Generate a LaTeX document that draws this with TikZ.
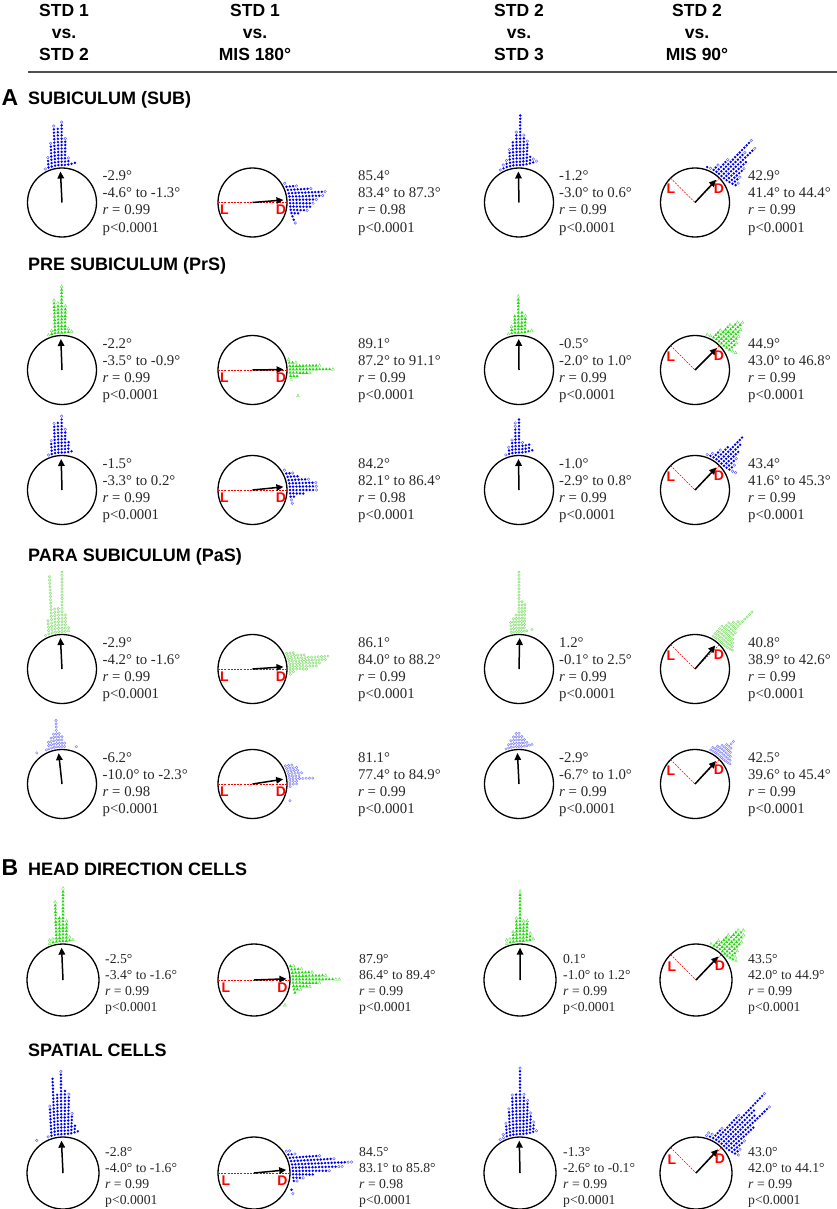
\documentclass[tikz,border=0pt]{standalone}
\usepackage{fontspec}
\setmainfont{Liberation Serif}
\setsansfont{Liberation Sans}
\usetikzlibrary{arrows.meta,calc}

\definecolor{cblue}{RGB}{0,0,245}
\definecolor{cblueo}{RGB}{95,95,255}
\definecolor{cgreen}{RGB}{40,215,20}
\definecolor{cgreeno}{RGB}{100,225,80}
\definecolor{cpg}{RGB}{135,225,115}
\definecolor{cpb}{RGB}{135,135,245}
\definecolor{ctext}{RGB}{40,40,40}
\definecolor{crule}{RGB}{80,80,80}

% dot markers
\newcommand\mkbf[2]{\fill[cblue] (#1,#2) circle (1.35);}
\newcommand\mkbo[2]{\draw[cblueo,line width=.45pt] (#1,#2) circle (1.3);}
\newcommand\mkgf[2]{\fill[cgreen] (#1,#2) ++(0,-1.8) -- ++(1.55,2.8) -- ++(-3.1,0) -- cycle;}
\newcommand\mkgo[2]{\draw[cgreeno,line width=.4pt] (#1,#2) ++(0,-1.6) -- ++(1.4,2.6) -- ++(-2.8,0) -- cycle;}
\newcommand\mkpgf[2]{\draw[cpg,line width=.5pt] (#1,#2) circle (1.2);}
\newcommand\mkpgo[2]{\draw[cpg,line width=.5pt] (#1,#2) circle (1.2);}
\newcommand\mkpbf[2]{\draw[cpb,line width=.5pt] (#1,#2) circle (1.2);}
\newcommand\mkpbo[2]{\draw[cpb,line width=.5pt] (#1,#2) circle (1.2);}

% fan of stacked dots: cx, cy, R, phi, centre index, perp spacing, type, list n/o
\newcommand\fan[8]{%
  \foreach \fn/\fo [count=\ii from 0] in {#8} {%
    \pgfmathsetmacro\ft{(#5-\ii)*#6}%
    \pgfmathsetmacro\fb{sqrt(max(0,(#3+3)^2-\ft^2))}%
    \pgfmathsetmacro\fpsi{#4+(#5-\ii)*0.9}%
    \pgfmathsetmacro\fbx{#1-\ft*sin(#4)+\fb*cos(#4)}%
    \pgfmathsetmacro\fby{#2-(\ft*cos(#4)+\fb*sin(#4))}%
    \pgfmathtruncatemacro\ftot{\fn+\fo}%
    \ifnum\ftot>0
      \foreach \k in {1,...,\ftot}{%
        \pgfmathsetmacro\fpx{\fbx+(\k-1)*3.3*cos(\fpsi)}%
        \pgfmathsetmacro\fpy{\fby-(\k-1)*3.3*sin(\fpsi)}%
        \ifnum\k>\fn\relax \csname mk#7o\endcsname{\fpx}{\fpy}\else\csname mk#7f\endcsname{\fpx}{\fpy}\fi
      }%
    \fi
  }}
\newcommand\lone[5]{\pgfmathsetmacro\fpx{#1+#3*cos(#4)}\pgfmathsetmacro\fpy{#2-#3*sin(#4)}\csname mk#5\endcsname{\fpx}{\fpy}}

% a circular panel: name, cx, cy, R, phi, kind (0 none, 1 horizontal L-D, 2 diagonal L-D)
\newcommand\pane[6]{%
  \node[pc, minimum size=2*#4pt] (#1) at (#2,#3) {};
  \ifcase#6\relax
  \or
    \draw[ldline] ($(#1.center)+(-#4,0)$) -- (#1.center) -- ($(#1.center)+(#4,0)$);
  \or
    \draw[ldline] ($(#1.center)+(-135:#4)$) -- (#1.center) -- ($(#1.center)+(-45:#4)$);
  \fi
  \draw[arr] (#1.center) -- ($(#1.center)+({-(#5)}:{0.9*#4})$);
  \ifcase#6\relax
  \or
    \node[ldlab] (#1L) at ($(#1.center)+(-28,7.5)$) {L};
    \node[ldlab] (#1D) at ($(#1.center)+(28.5,7.5)$) {D};
  \or
    \node[ldlab] (#1L) at ($(#1.center)+(-24,-13.5)$) {L};
    \node[ldlab] (#1D) at ($(#1.center)+(24,-14)$) {D};
  \fi
}
\newcommand\statbox[3]{\vtop{\hbox{#1}\hbox{#2}\hbox{\textit{r} = #3}\hbox{p<0.0001}}}

\tikzset{
  pc/.style={circle, draw=black, line width=1.3pt, inner sep=0pt, outer sep=0pt},
  arr/.style={-{Triangle[length=7pt,width=6.5pt]}, line width=1.5pt, black},
  ldline/.style={red, line width=0.6pt, dash pattern=on 2pt off 1.2pt},
  ldlab/.style={text=red, font=\sffamily\bfseries\fontsize{14}{14}\selectfont, inner sep=0pt},
  stA/.style={anchor=base west, inner sep=0pt, text=ctext, font=\fontsize{14.8}{17.2}\selectfont},
  stB/.style={anchor=base west, inner sep=0pt, text=ctext, font=\fontsize{13.7}{16.1}\selectfont},
  hdr/.style={anchor=base, inner sep=0pt, font=\sffamily\bfseries\fontsize{17.5}{20}\selectfont},
  ttl/.style={anchor=base west, inner sep=0pt, font=\sffamily\bfseries\fontsize{18}{20}\selectfont},
  biglet/.style={anchor=base west, inner sep=0pt, font=\sffamily\bfseries\fontsize{23}{25}\selectfont},
}

\begin{document}
\begin{tikzpicture}[x=1pt,y=-1pt]
\fill[white] (0,0) rectangle (837,1209);
\useasboundingbox (0,0) rectangle (837,1209);

% header
\node[hdr] (h1a) at (64,16.8) {STD 1};
\node[hdr] (h1b) at (64,38.5) {vs.};
\node[hdr] (h1c) at (64,60.2) {STD 2};
\node[hdr] (h2a) at (255,16.8) {STD 1};
\node[hdr] (h2b) at (255,38.5) {vs.};
\node[hdr] (h2c) at (255,60.2) {MIS 180°};
\node[hdr] (h3a) at (519,16.8) {STD 2};
\node[hdr] (h3b) at (519,38.5) {vs.};
\node[hdr] (h3c) at (519,60.2) {STD 3};
\node[hdr] (h4a) at (697,16.8) {STD 2};
\node[hdr] (h4b) at (697,38.5) {vs.};
\node[hdr] (h4c) at (697,60.2) {MIS 90°};
\coordinate (ruleL) at (28,72);
\coordinate (ruleR) at (837,72);
\draw[crule, line width=1.3pt] (ruleL) -- (ruleR);

% section titles
\node[biglet] (lA) at (1.5,106) {A};
\node[ttl] (tSUB) at (28,105) {SUBICULUM (SUB)};
\node[ttl] (tPrS) at (28,270) {PRE SUBICULUM (PrS)};
\node[ttl] (tPaS) at (28,561) {PARA SUBICULUM (PaS)};
\node[biglet] (lB) at (1.5,875) {B};
\node[ttl] (tHD) at (28,875) {HEAD DIRECTION CELLS};
\node[ttl] (tSP) at (28,1056) {SPATIAL CELLS};

% ---------- Row 1: SUB ----------
\pane{c11}{62}{202.5}{34.5}{92.9}{0}
\pane{c12}{252.5}{202.5}{34.5}{4.6}{1}
\pane{c13}{519}{202.5}{34.5}{91.2}{0}
\pane{c14}{695}{202.5}{34.5}{47.1}{2}
\fan{62}{202.5}{34.5}{90}{5.1}{3.3}{b}{0/1,3/1,7/1,12/1,12/0,13/1,8/1,2/1,1/0,1/0}
\fan{252.5}{202.5}{34.5}{0}{5.8}{3.3}{b}{0/1,3/1,7/1,11/1,10/1,8/1,7/1,7/0,5/1,3/0,1/0,1/0,0/1}
\fan{519}{202.5}{34.5}{90}{5.7}{3.3}{b}{0/1,1/1,2/1,5/1,8/0,10/1,16/0,9/1,7/1,3/0,1/1,0/1}
\fan{695}{202.5}{34.5}{45}{5}{3.3}{b}{1/0,0/1,2/1,5/1,14/1,10/1,13/1,9/0,6/1,3/1,1/1}
\node[stA] (s11) at (102.5,180.5) {\statbox{-2.9°}{-4.6° to -1.3°}{0.99}};
\node[stA] (s12) at (358,180.5) {\statbox{85.4°}{83.4° to 87.3°}{0.98}};
\node[stA] (s13) at (559,180.5) {\statbox{-1.2°}{-3.0° to 0.6°}{0.99}};
\node[stA] (s14) at (748,180.5) {\statbox{42.9°}{41.4° to 44.4°}{0.99}};

% ---------- Row 2: PrS (green) ----------
\pane{c21}{62}{370}{34.5}{92.2}{0}
\pane{c22}{252.5}{370}{34.5}{0.9}{1}
\pane{c23}{519}{370}{34.5}{90.5}{0}
\pane{c24}{695}{370}{34.5}{45.1}{2}
\fan{62}{370}{34.5}{90}{4.1}{3.3}{g}{0/1,1/1,10/1,9/1,14/1,8/1,1/1,0/1}
\fan{252.5}{370}{34.5}{0}{3.2}{3.3}{g}{0/1,2/1,9/1,13/1,6/1,3/0,0/1,0/0,0/0,0/0,0/0,0/1}
\fan{519}{370}{34.5}{90}{3.2}{3.3}{g}{0/1,2/1,6/0,11/1,7/0,5/1,1/0,0/1}
\fan{695}{370}{34.5}{45}{5}{3.3}{g}{0/1,0/1,3/1,6/1,8/1,9/1,7/1,5/1,3/1,0/1,0/1}
\node[stA] (s21) at (102.5,348) {\statbox{-2.2°}{-3.5° to -0.9°}{0.99}};
\node[stA] (s22) at (358,348) {\statbox{89.1°}{87.2° to 91.1°}{0.99}};
\node[stA] (s23) at (559,348) {\statbox{-0.5°}{-2.0° to 1.0°}{0.99}};
\node[stA] (s24) at (748,348) {\statbox{44.9°}{43.0° to 46.8°}{0.99}};

% ---------- Row 3: PrS (blue) ----------
\pane{c31}{62}{490}{34.5}{91.5}{0}
\pane{c32}{252.5}{490}{34.5}{5.8}{1}
\pane{c33}{519}{490}{34.5}{91}{0}
\pane{c34}{695}{490}{34.5}{46.6}{2}
\fan{62}{490}{34.5}{90}{4.1}{3.3}{b}{0/1,4/1,9/1,10/0,11/1,7/1,4/0,1/0}
\fan{252.5}{490}{34.5}{0}{6}{3.3}{b}{0/1,2/1,4/0,6/1,8/1,8/1,8/1,5/0,2/0,0/1,0/1}
\fan{519}{490}{34.5}{90}{4}{3.3}{b}{0/1,2/1,4/1,8/2,11/0,3/1,3/0,3/0,1/0}
\fan{695}{490}{34.5}{45}{5}{3.3}{b}{0/1,1/1,3/1,6/0,11/0,9/0,7/0,4/1,2/1,0/1,0/1}
\node[stA] (s31) at (102.5,468) {\statbox{-1.5°}{-3.3° to 0.2°}{0.99}};
\node[stA] (s32) at (358,468) {\statbox{84.2°}{82.1° to 86.4°}{0.98}};
\node[stA] (s33) at (559,468) {\statbox{-1.0°}{-2.9° to 0.8°}{0.99}};
\node[stA] (s34) at (748,468) {\statbox{43.4°}{41.6° to 45.3°}{0.99}};

% ---------- Row 4: PaS (pale green) ----------
\pane{c41}{62}{669}{34.5}{92.9}{0}
\pane{c42}{252.5}{669}{34.5}{3.9}{1}
\pane{c43}{519}{669}{34.5}{88.8}{0}
\pane{c44}{695}{669}{34.5}{49.2}{2}
\fan{62}{669}{34.5}{90}{5}{3.3}{pg}{1/0,5/0,18/0,8/0,8/0,19/0,6/0,2/0}
\fan{252.5}{669}{34.5}{0}{6}{2.6}{pg}{3/0,6/0,13/0,12/0,10/0,9/0,6/0,2/0,1/0}
\fan{519}{669}{34.5}{90}{3}{2.6}{pg}{4/0,5/0,6/0,19/0,10/0,9/0,1/0,0/0,1/0}
\fan{695}{669}{34.5}{45}{4}{2.6}{pg}{5/0,7/0,8/0,9/0,14/0,6/0,4/0,3/0,2/0,1/0}
\node[stA] (s41) at (102.5,647) {\statbox{-2.9°}{-4.2° to -1.6°}{0.99}};
\node[stA] (s42) at (358,647) {\statbox{86.1°}{84.0° to 88.2°}{0.99}};
\node[stA] (s43) at (559,647) {\statbox{1.2°}{-0.1° to 2.5°}{0.99}};
\node[stA] (s44) at (748,647) {\statbox{40.8°}{38.9° to 42.6°}{0.99}};

% ---------- Row 5: PaS (pale blue) ----------
\pane{c51}{62}{784}{34.5}{96.2}{0}
\pane{c52}{252.5}{784}{34.5}{8.9}{1}
\pane{c53}{519}{784}{34.5}{92.9}{0}
\pane{c54}{695}{784}{34.5}{47.5}{2}
\fan{62}{784}{34.5}{90}{6}{2.6}{pb}{1/0,3/0,4/0,5/0,9/0,5/0,4/0,2/0}
\lone{62}{784}{40}{129}{pbf}
\lone{62}{784}{40}{69}{pbf}
\fan{252.5}{784}{34.5}{0}{7}{2.6}{pb}{3/0,4/0,4/0,5/0,4/0,8/0,3/0,3/0,1/0}
\lone{252.5}{784}{41}{-24}{pbf}
\fan{519}{784}{34.5}{90}{5}{2.6}{pb}{1/0,2/0,3/0,4/0,5/0,5/0,4/0,3/0,2/0,1/0,1/0}
\fan{695}{784}{34.5}{45}{5}{2.6}{pb}{2/0,3/0,4/0,5/0,7/0,5/0,4/0,3/0,2/0,1/0}
\node[stA] (s51) at (102.5,762) {\statbox{-6.2°}{-10.0° to -2.3°}{0.98}};
\node[stA] (s52) at (358,762) {\statbox{81.1°}{77.4° to 84.9°}{0.99}};
\node[stA] (s53) at (559,762) {\statbox{-2.9°}{-6.7° to 1.0°}{0.99}};
\node[stA] (s54) at (748,762) {\statbox{42.5°}{39.6° to 45.4°}{0.99}};

% ---------- Row 6: HD cells (green) ----------
\pane{c61}{63}{980}{36}{92.5}{0}
\pane{c62}{254}{980}{36}{2.1}{1}
\pane{c63}{520}{980}{36}{89.9}{0}
\pane{c64}{696}{980}{36}{46.5}{2}
\fan{63}{980}{36}{90}{4}{3.3}{g}{0/2,1/1,12/1,8/0,16/1,6/1,1/1,0/1}
\fan{254}{980}{36}{0}{4.2}{3.3}{g}{1/1,3/1,6/1,10/1,13/2,8/1,5/1,2/1,1/0}
\lone{254}{980}{39.8}{-39}{go}
\fan{520}{980}{36}{90}{4}{3.3}{g}{0/2,1/1,3/1,7/1,15/1,6/1,6/1,2/1,0/1}
\fan{696}{980}{36}{45}{4.5}{3.3}{g}{0/1,2/1,5/1,8/1,9/1,8/1,6/1,3/1,1/1,0/1}
\node[stB] (s61) at (105,963.3) {\statbox{-2.5°}{-3.4° to -1.6°}{0.99}};
\node[stB] (s62) at (359,963.3) {\statbox{87.9°}{86.4° to 89.4°}{0.99}};
\node[stB] (s63) at (563,963.3) {\statbox{0.1°}{-1.0° to 1.2°}{0.99}};
\node[stB] (s64) at (748,963.3) {\statbox{43.5°}{42.0° to 44.9°}{0.99}};

% ---------- Row 7: spatial cells (blue) ----------
\pane{c71}{63}{1173}{36}{92.8}{0}
\pane{c72}{254}{1173}{36}{5.5}{1}
\pane{c73}{520}{1173}{36}{91.3}{0}
\pane{c74}{696}{1173}{36}{47}{2}
\fan{63}{1173}{36}{90}{4.5}{3.3}{b}{0/1,9/1,18/0,13/0,19/1,14/0,12/1,6/1,3/0,1/0}
\lone{63}{1173}{41.7}{129}{bo}
\fan{254}{1173}{36}{0}{6.6}{3.3}{b}{0/2,2/1,9/1,13/1,17/2,14/2,11/1,7/0,3/1,1/1}
\lone{254}{1173}{41}{-24}{bf}
\lone{254}{1173}{44}{-28}{bo}
\fan{520}{1173}{36}{90}{6}{3.3}{b}{0/1,0/2,4/1,8/1,12/1,13/0,20/1,12/1,10/1,6/1,3/1,0/1}
\fan{696}{1173}{36}{45}{5.8}{3.3}{b}{0/2,1/1,4/1,10/1,20/1,15/0,14/0,18/1,11/0,5/1,2/1,0/1}
\node[stB] (s71) at (105,1156.3) {\statbox{-2.8°}{-4.0° to -1.6°}{0.99}};
\node[stB] (s72) at (359,1156.3) {\statbox{84.5°}{83.1° to 85.8°}{0.98}};
\node[stB] (s73) at (563,1156.3) {\statbox{-1.3°}{-2.6° to -0.1°}{0.99}};
\node[stB] (s74) at (748,1156.3) {\statbox{43.0°}{42.0° to 44.1°}{0.99}};
\end{tikzpicture}
\end{document}
